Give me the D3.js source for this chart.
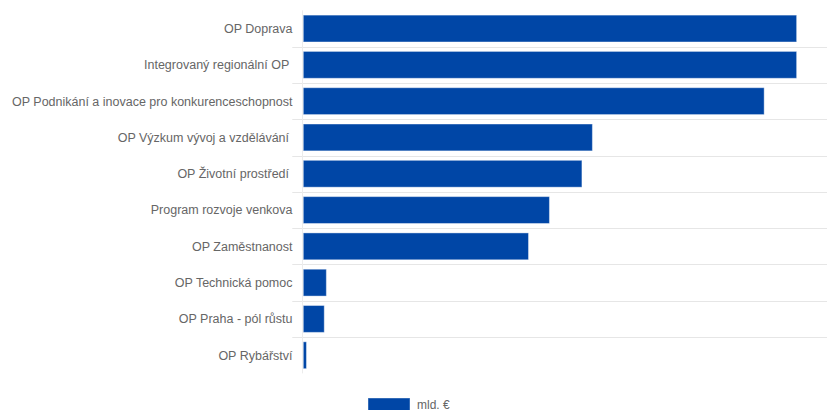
<!DOCTYPE html>
<html>
<head>
<meta charset="utf-8">
<script src="https://cdn.jsdelivr.net/npm/d3@7/dist/d3.min.js"></script>
<style>
  html, body { margin: 0; padding: 0; background: #fff; }
  svg { display: block; font-family: "Liberation Sans", Arial, sans-serif; }
</style>
</head>
<body>
<svg id="chart" width="827" height="410"></svg>
<script>
const categories = [
  "OP Doprava",
  "Integrovaný regionální OP ",
  "OP Podnikání a inovace pro konkurenceschopnost",
  "OP Výzkum vývoj a vzdělávání ",
  "OP Životní prostředí ",
  "Program rozvoje venkova",
  "OP Zaměstnanost",
  "OP Technická pomoc",
  "OP Praha - pól růstu",
  "OP Rybářství"
];
const values = [4.71, 4.71, 4.40, 2.76, 2.66, 2.35, 2.15, 0.22, 0.20, 0.03];
const seriesName = "mld. €";
const xDomain = [0, 5];

(function () {
const svg = d3.select("#chart");
const plotLeft = 303.3, plotRight = 827, plotTop = 10.4, plotBottom = 373.4;
const barColor = "#0046a6";

const x = d3.scaleLinear().domain(xDomain).range([plotLeft, plotRight]);
const y = d3.scaleBand().domain(categories).range([plotTop, plotBottom]).padding(0);
const step = y.step();

// grid lines between categories (incl. tick part to the left)
const bounds = categories.slice(1).map(c => y(c));
svg.append("g").selectAll("line").data(bounds).join("line")
  .attr("x1", plotLeft - 11).attr("x2", plotRight)
  .attr("y1", d => Math.round(d) + 0.5).attr("y2", d => Math.round(d) + 0.5)
  .attr("stroke", "#e6e6e6").attr("stroke-width", 1);

// axis line
svg.append("line")
  .attr("x1", Math.round(plotLeft) - 0.5).attr("x2", Math.round(plotLeft) - 0.5)
  .attr("y1", plotTop).attr("y2", plotBottom)
  .attr("stroke", "#ececec").attr("stroke-width", 1);

// bars
svg.append("g").selectAll("rect").data(categories).join("rect")
  .attr("x", x(0))
  .attr("y", c => y(c) + step * 0.13)
  .attr("width", (c, i) => x(values[i]) - x(0))
  .attr("height", step * 0.74)
  .attr("fill", barColor)
  .attr("stroke", "#ffffff").attr("stroke-opacity", 0.4).attr("stroke-width", 1);

// category labels
svg.append("g").selectAll("text").data(categories).join("text")
  .attr("x", 292.5)
  .attr("y", c => y(c) + step / 2)
  .attr("dy", "0.35em")
  .attr("text-anchor", "end")
  .attr("font-size", 12.5)
  .attr("fill", "#666666")
  .style("white-space", "pre")
  .text(c => c);

// legend
const lg = svg.append("g");
lg.append("rect").attr("x", 368).attr("y", 398).attr("width", 42).attr("height", 14)
  .attr("fill", barColor).attr("stroke", "#ffffff").attr("stroke-opacity", 0.4);
lg.append("text").attr("x", 417).attr("y", 408.5)
  .attr("font-size", 12).attr("fill", "#666666").text(seriesName);
})();
</script>
</body>
</html>
